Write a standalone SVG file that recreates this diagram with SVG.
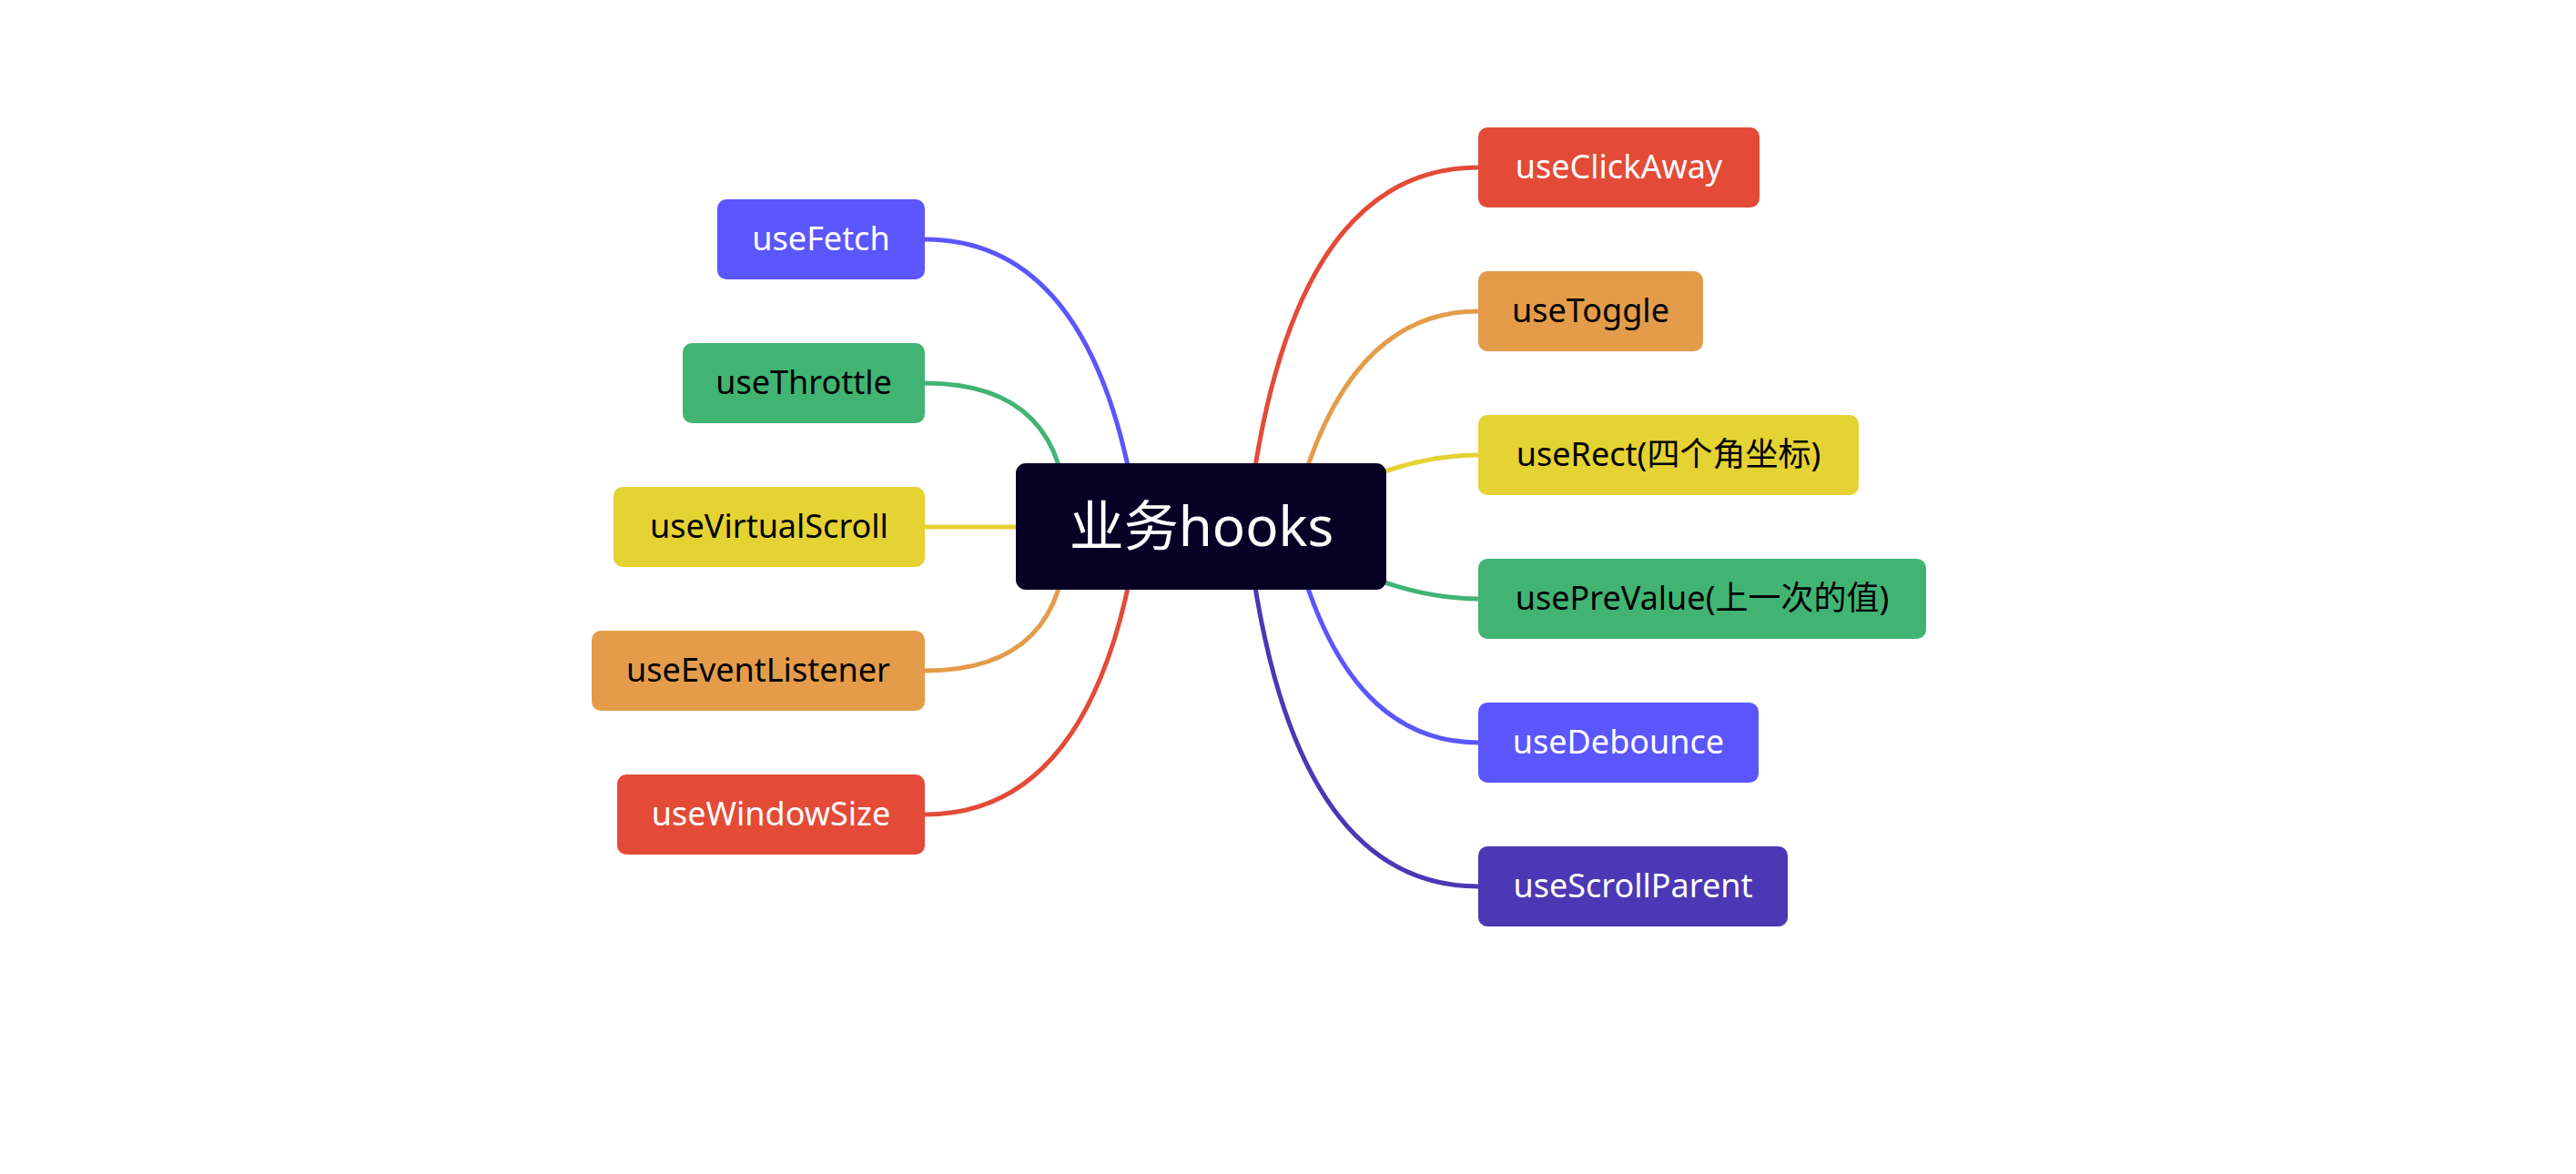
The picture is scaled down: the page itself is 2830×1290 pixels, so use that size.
<svg xmlns="http://www.w3.org/2000/svg" width="2830" height="1290" viewBox="0 0 2830 1290">
<style>
.bg{fill:#ffffff}
.c{fill:none;stroke-width:5;stroke-linecap:round}
.t{font-family:"Noto Sans","Noto Sans CJK SC",sans-serif;font-size:36px;text-anchor:middle}
.w{fill:#ffffff}
.k{fill:#000000}
.root{font-family:"Noto Sans","Noto Sans CJK SC",sans-serif;font-size:60px;text-anchor:middle;fill:#ffffff}
.blue{fill:#5B56FE}.green{fill:#41B474}.yellow{fill:#E5D233}.orange{fill:#E49C4A}.red{fill:#E34B38}.purple{fill:#4C38B4}
</style>
<rect class="bg" x="0" y="0" width="2830" height="1290"/>
<g id="connectors">
<path class="c" stroke="#5B56FE" d="M1016,263 Q1206,263 1251,579"/>
<path class="c" stroke="#41B474" d="M1016,421 Q1173,421 1172,579"/>
<path class="c" stroke="#E5D233" d="M1016,579 L1200,579"/>
<path class="c" stroke="#E49C4A" d="M1016,737 Q1173,737 1172,579"/>
<path class="c" stroke="#E34B38" d="M1016,895 Q1206,895 1251,579"/>
<path class="c" stroke="#E34B38" d="M1624,184 Q1414,184 1370,579"/>
<path class="c" stroke="#E49C4A" d="M1624,342 Q1472,342 1418,579"/>
<path class="c" stroke="#E5D233" d="M1624,500 Q1520,500 1400,579"/>
<path class="c" stroke="#41B474" d="M1624,658 Q1520,658 1400,579"/>
<path class="c" stroke="#5B56FE" d="M1624,816 Q1472,816 1418,579"/>
<path class="c" stroke="#4C38B4" d="M1624,974 Q1414,974 1370,579"/>
</g>
<g id="root">
<rect x="1116" y="509" width="407" height="139" rx="11" fill="#060125"/>
<text class="root" x="1320" y="600">业务hooks</text>
</g>
<g id="useFetch">
<rect class="blue" x="788" y="219" width="228" height="88" rx="10"/>
<text class="t w" x="902" y="275">useFetch</text>
</g>
<g id="useThrottle">
<rect class="green" x="750" y="377" width="266" height="88" rx="10"/>
<text class="t k" x="883" y="433">useThrottle</text>
</g>
<g id="useVirtualScroll">
<rect class="yellow" x="674" y="535" width="342" height="88" rx="10"/>
<text class="t k" x="845" y="591">useVirtualScroll</text>
</g>
<g id="useEventListener">
<rect class="orange" x="650" y="693" width="366" height="88" rx="10"/>
<text class="t k" x="833" y="749">useEventListener</text>
</g>
<g id="useWindowSize">
<rect class="red" x="678" y="851" width="338" height="88" rx="10"/>
<text class="t w" x="847" y="907">useWindowSize</text>
</g>
<g id="useClickAway">
<rect class="red" x="1624" y="140" width="309" height="88" rx="10"/>
<text class="t w" x="1778.5" y="196">useClickAway</text>
</g>
<g id="useToggle">
<rect class="orange" x="1624" y="298" width="247" height="88" rx="10"/>
<text class="t k" x="1747.5" y="354">useToggle</text>
</g>
<g id="useRect">
<rect class="yellow" x="1624" y="456" width="418" height="88" rx="10"/>
<text class="t k" x="1833" y="512">useRect(四个角坐标)</text>
</g>
<g id="usePreValue">
<rect class="green" x="1624" y="614" width="492" height="88" rx="10"/>
<text class="t k" x="1870" y="670">usePreValue(上一次的值)</text>
</g>
<g id="useDebounce">
<rect class="blue" x="1624" y="772" width="308" height="88" rx="10"/>
<text class="t w" x="1778" y="828">useDebounce</text>
</g>
<g id="useScrollParent">
<rect class="purple" x="1624" y="930" width="340" height="88" rx="10"/>
<text class="t w" x="1794" y="986">useScrollParent</text>
</g>
</svg>
